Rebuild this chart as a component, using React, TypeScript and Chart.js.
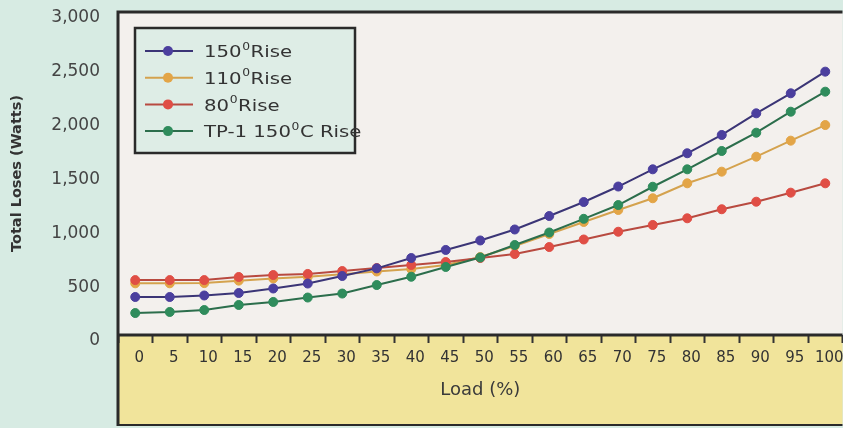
import React, { useEffect, useRef } from "react";
import { Chart, registerables } from "chart.js";

Chart.register(...registerables);

const loadLabels = ["0", "5", "10", "15", "20", "25", "30", "35", "40", "45", "50", "55", "60", "65", "70", "75", "80", "85", "90", "95", "100"];
const seriesNames = ["150⁰Rise", "110⁰Rise", "80⁰Rise", "TP-1 150⁰C Rise"];
const rise150 = [353, 353, 367, 390, 432, 478, 548, 619, 715, 790, 878, 980, 1105, 1235, 1379, 1539, 1688, 1858, 2059, 2245, 2446];
const rise110 = [480, 480, 482, 505, 525, 540, 565, 590, 612, 650, 724, 827, 938, 1050, 1161, 1270, 1409, 1517, 1656, 1805, 1950];
const rise80 = [510, 510, 510, 539, 557, 567, 594, 622, 650, 678, 715, 752, 817, 887, 959, 1022, 1084, 1168, 1238, 1322, 1409];
const tp1Rise150 = [204, 214, 232, 279, 307, 348, 385, 464, 541, 632, 720, 836, 952, 1079, 1207, 1377, 1539, 1709, 1879, 2074, 2260];
const yMin = 0;
const yMax = 3000;
const yStep = 500;

const markerColors = ["#4b3f9e", "#e3a547", "#e04e45", "#2f8c5c"];
const lineColors = ["#3b3576", "#d4a24e", "#b84a40", "#2c6e4c"];
const drawOrder = [1, 3, 2, 0];

const MINT = "#d7ebe3";
const PLOT_BG = "#f3f0ed";
const YELLOW = "#f1e49b";
const FRAME = "#2a2a2a";
const FONT = "'DejaVu Sans', 'Liberation Sans', Arial, sans-serif";

function drawRich(ctx: CanvasRenderingContext2D, text: string, x: number, y: number, size: number, sx: number) {
  ctx.save();
  ctx.translate(x, y);
  ctx.scale(sx, 1);
  ctx.textBaseline = "middle";
  ctx.textAlign = "left";
  ctx.fillStyle = "#333";
  const parts = text.split("⁰");
  let cx = 0;
  parts.forEach((p, i) => {
    ctx.font = `${size}px ${FONT}`;
    ctx.fillText(p, cx, 0);
    cx += ctx.measureText(p).width;
    if (i < parts.length - 1) {
      ctx.font = `${Math.round(size * 0.62)}px ${FONT}`;
      ctx.fillText("0", cx + 0.5, -6);
      cx += ctx.measureText("0").width + 1;
    }
  });
  ctx.restore();
}

const bgPlugin = {
  id: "bgPlugin",
  beforeDraw(chart: any) {
    const { ctx, chartArea } = chart;
    const { left, top, right, bottom } = chartArea;
    ctx.save();
    ctx.fillStyle = MINT;
    ctx.fillRect(0, 0, chart.width, chart.height);
    ctx.fillStyle = PLOT_BG;
    ctx.fillRect(left, top, right - left, bottom - top);
    ctx.fillStyle = YELLOW;
    ctx.fillRect(left, bottom, right - left, 424 - bottom);
    ctx.restore();
  },
  afterDraw(chart: any) {
    const { ctx, chartArea } = chart;
    const { left, top, right, bottom } = chartArea;
    ctx.save();
    ctx.strokeStyle = FRAME;
    ctx.lineWidth = 3;
    ctx.beginPath();
    ctx.moveTo(left, top - 1.5);
    ctx.lineTo(left, 426);
    ctx.moveTo(left - 1.5, top);
    ctx.lineTo(right, top);
    ctx.moveTo(left - 1.5, bottom);
    ctx.lineTo(right, bottom);
    ctx.stroke();
    ctx.lineWidth = 2;
    ctx.beginPath();
    ctx.moveTo(left, 425);
    ctx.lineTo(right, 425);
    ctx.stroke();

    // legend box
    const bx = 135, by = 28, bw = 220, bh = 125;
    ctx.fillStyle = "#deede6";
    ctx.fillRect(bx, by, bw, bh);
    ctx.lineWidth = 2.5;
    ctx.strokeStyle = FRAME;
    ctx.strokeRect(bx, by, bw, bh);
    chart.data.datasets.forEach((ds: any, i: number) => {
      const y = 51 + i * 26.7;
      ctx.strokeStyle = ds.borderColor;
      ctx.lineWidth = 2;
      ctx.beginPath();
      ctx.moveTo(145, y);
      ctx.lineTo(193, y);
      ctx.stroke();
      ctx.fillStyle = ds.pointBackgroundColor;
      ctx.beginPath();
      ctx.arc(168, y, 5, 0, Math.PI * 2);
      ctx.fill();
      drawRich(ctx, ds.label, 204, y + 2, 16, 1.23);
    });
    ctx.restore();
  },
};

export default function App() {
  const ref = useRef<HTMLCanvasElement>(null);
  useEffect(() => {
    if (!ref.current) return;
    const values = [rise150, rise110, rise80, tp1Rise150];
    const chart = new Chart(ref.current, {
      type: "line",
      data: {
        labels: loadLabels,
        datasets: values.map((v, i) => ({
          label: seriesNames[i],
          data: v,
          borderColor: lineColors[i],
          backgroundColor: markerColors[i],
          pointBackgroundColor: markerColors[i],
          pointBorderColor: markerColors[i],
          pointBorderWidth: 1,
          pointRadius: 4.5,
          borderWidth: 2,
          tension: 0,
          fill: false,
          order: drawOrder[i],
        })),
      },
      options: {
        responsive: false,
        devicePixelRatio: 1,
        animation: false,
        events: [],
        layout: { padding: { top: 12, left: 0, right: 0, bottom: 0 } },
        plugins: {
          legend: { display: false },
          tooltip: { enabled: false },
          title: { display: false },
        },
        scales: {
          x: {
            type: "category",
            offset: true,
            grid: {
              display: true,
              offset: true,
              drawOnChartArea: false,
              drawTicks: true,
              tickLength: 8,
              tickWidth: 2,
              tickColor: "#333",
              color: "#333",
            },
            border: { display: false },
            ticks: {
              autoSkip: false,
              maxRotation: 0,
              minRotation: 0,
              padding: 6,
              labelOffset: 4,
              color: "#333",
              font: { family: FONT, size: 15 },
            },
            title: {
              display: true,
              text: "Load (%)",
              color: "#3a3a3a",
              font: { family: FONT, size: 18 },
              padding: { top: 2, bottom: 27 },
            },
            afterFit: (s: any) => {
              s.height = 93;
              s.paddingLeft = 0;
              s.paddingRight = 0;
            },
          },
          y: {
            min: yMin,
            max: yMax,
            grid: { display: false, drawTicks: false },
            border: { display: false },
            ticks: {
              stepSize: yStep,
              padding: 18,
              labelOffset: 6,
              color: "#444",
              font: { family: FONT, size: 17 },
            },
            title: {
              display: true,
              text: "Total Loses (Watts)",
              color: "#333",
              font: { family: FONT, size: 14.5, weight: "bold" },
              padding: { top: 9, bottom: 0 },
            },
            afterFit: (s: any) => {
              s.width = 118;
              s.paddingTop = 0;
              s.paddingBottom = 0;
            },
          },
        },
      },
      plugins: [bgPlugin],
    } as any);
    return () => chart.destroy();
  }, []);
  return (
    <div style={{ position: "fixed", left: 0, top: 0, width: 843, height: 428, overflow: "hidden", background: MINT }}>
      <canvas ref={ref} width={848} height={428} style={{ display: "block", width: 848, height: 428 }} />
    </div>
  );
}
